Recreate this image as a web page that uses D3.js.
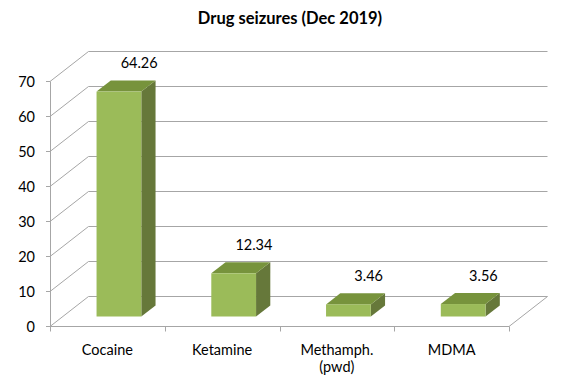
<!DOCTYPE html>
<html>
<head>
<meta charset="utf-8">
<script src="https://cdn.jsdelivr.net/npm/d3@7"></script>
<style>
  * { margin: 0; padding: 0; }
  body { background: #fff; }
  svg text { font-family: Lato, "Open Sans", sans-serif; fill: #000; }
</style>
</head>
<body>
<div id="chart"></div>
<script>
// data
const categories = ["Cocaine", "Ketamine", "Methamph.|(pwd)", "MDMA"];
const values = [64.26, 12.34, 3.46, 3.56];
const yTicks = [0, 10, 20, 30, 40, 50, 60, 70];
const title = "Drug seizures (Dec 2019)";

const width = 577, height = 385;
const svg = d3.select("#chart").append("svg")
    .attr("width", width)
    .attr("height", height);

// front plane scales
const x = d3.scaleBand().domain(categories).range([50, 509]);
const y = d3.scaleLinear().domain([0, 70]).range([325.5, 80.5]);

// depth of the box (back wall offset) and bar depth inside it
const depth = { dx: 38.5, dy: -30 };
const f0 = 0.3, f1 = 0.67;
const off = f => [depth.dx * f, depth.dy * f];

const grid = "#a6a6a6";
const fs = "14.5px";

svg.append("text")
    .attr("x", 290).attr("y", 24)
    .attr("text-anchor", "middle")
    .style("font-weight", "bold")
    .style("font-size", "16.5px")
    .text(title);

const walls = svg.append("g").attr("stroke", grid).attr("fill", "none").attr("stroke-width", 1);
const x0 = x.range()[0], x1 = x.range()[1];

// gridlines on the left wall + back wall
yTicks.forEach(t => {
    const yy = Math.round(y(t)) + 0.5;
    walls.append("path")
        .attr("d", `M${x0},${yy} L${x0 + depth.dx},${yy + depth.dy} L${x1 + depth.dx},${yy + depth.dy}`);
});
// floor
const yb = Math.round(y(0)) + 0.5;
walls.append("path")
    .attr("d", `M${x0},${yb} L${x1},${yb} L${x1 + depth.dx},${yb + depth.dy}`);
// vertical axis
walls.append("line")
    .attr("x1", x0 + 0.5).attr("x2", x0 + 0.5)
    .attr("y1", Math.round(y(70)) + 0.5).attr("y2", yb);

// y ticks and labels
const yAxis = svg.append("g");
yTicks.forEach(t => {
    const yy = Math.round(y(t)) + 0.5;
    yAxis.append("line").attr("x1", x0 - 4).attr("x2", x0).attr("y1", yy).attr("y2", yy).attr("stroke", grid);
    yAxis.append("text")
        .attr("x", 35).attr("y", yy + 5)
        .attr("text-anchor", "end")
        .style("font-size", fs)
        .text(t);
});

// category ticks and labels
const xAxis = svg.append("g");
const edges = categories.map(c => x(c)).concat([x1]);
edges.forEach(e => {
    xAxis.append("line").attr("x1", Math.round(e) + 0.5).attr("x2", Math.round(e) + 0.5)
        .attr("y1", yb).attr("y2", yb + 5).attr("stroke", grid);
});
categories.forEach(c => {
    const parts = c.split("|");
    const t = xAxis.append("text")
        .attr("x", x(c) + x.bandwidth() / 2)
        .attr("y", 355)
        .attr("text-anchor", "middle")
        .style("font-size", fs);
    parts.forEach((p, i) => {
        t.append("tspan").attr("x", x(c) + x.bandwidth() / 2).attr("dy", i ? 17 : 0).text(p);
    });
});

// bars
const bw = x.bandwidth() * 0.39;
const [ox0, oy0] = off(f0);
const [ox1, oy1] = off(f1);
const ddx = ox1 - ox0, ddy = oy1 - oy0;

const bars = svg.append("g").selectAll("g")
    .data(categories.map((c, i) => ({ c, v: values[i] })))
    .join("g");

bars.each(function(d) {
    const g = d3.select(this);
    const left = x(d.c) + (x.bandwidth() - bw) / 2 + ox0;
    const right = left + bw;
    const bot = y(0) + oy0;
    const top = y(d.v) + oy0;
    // side
    g.append("path")
        .attr("d", `M${right},${top} L${right + ddx},${top + ddy} L${right + ddx},${bot + ddy} L${right},${bot} Z`)
        .attr("fill", "#66783a");
    // top
    g.append("path")
        .attr("d", `M${left},${top} L${left + ddx},${top + ddy} L${right + ddx},${top + ddy} L${right},${top} Z`)
        .attr("fill", "#77933c");
    // front
    g.append("rect")
        .attr("x", left).attr("y", top)
        .attr("width", bw).attr("height", bot - top)
        .attr("fill", "#9bbb59");
    // value label above the back of the top face
    g.append("text")
        .attr("x", left + bw / 2 + ddx + 6)
        .attr("y", top + ddy - 12)
        .attr("text-anchor", "middle")
        .style("font-size", fs)
        .text(d.v.toFixed(2));
});
</script>
</body>
</html>
